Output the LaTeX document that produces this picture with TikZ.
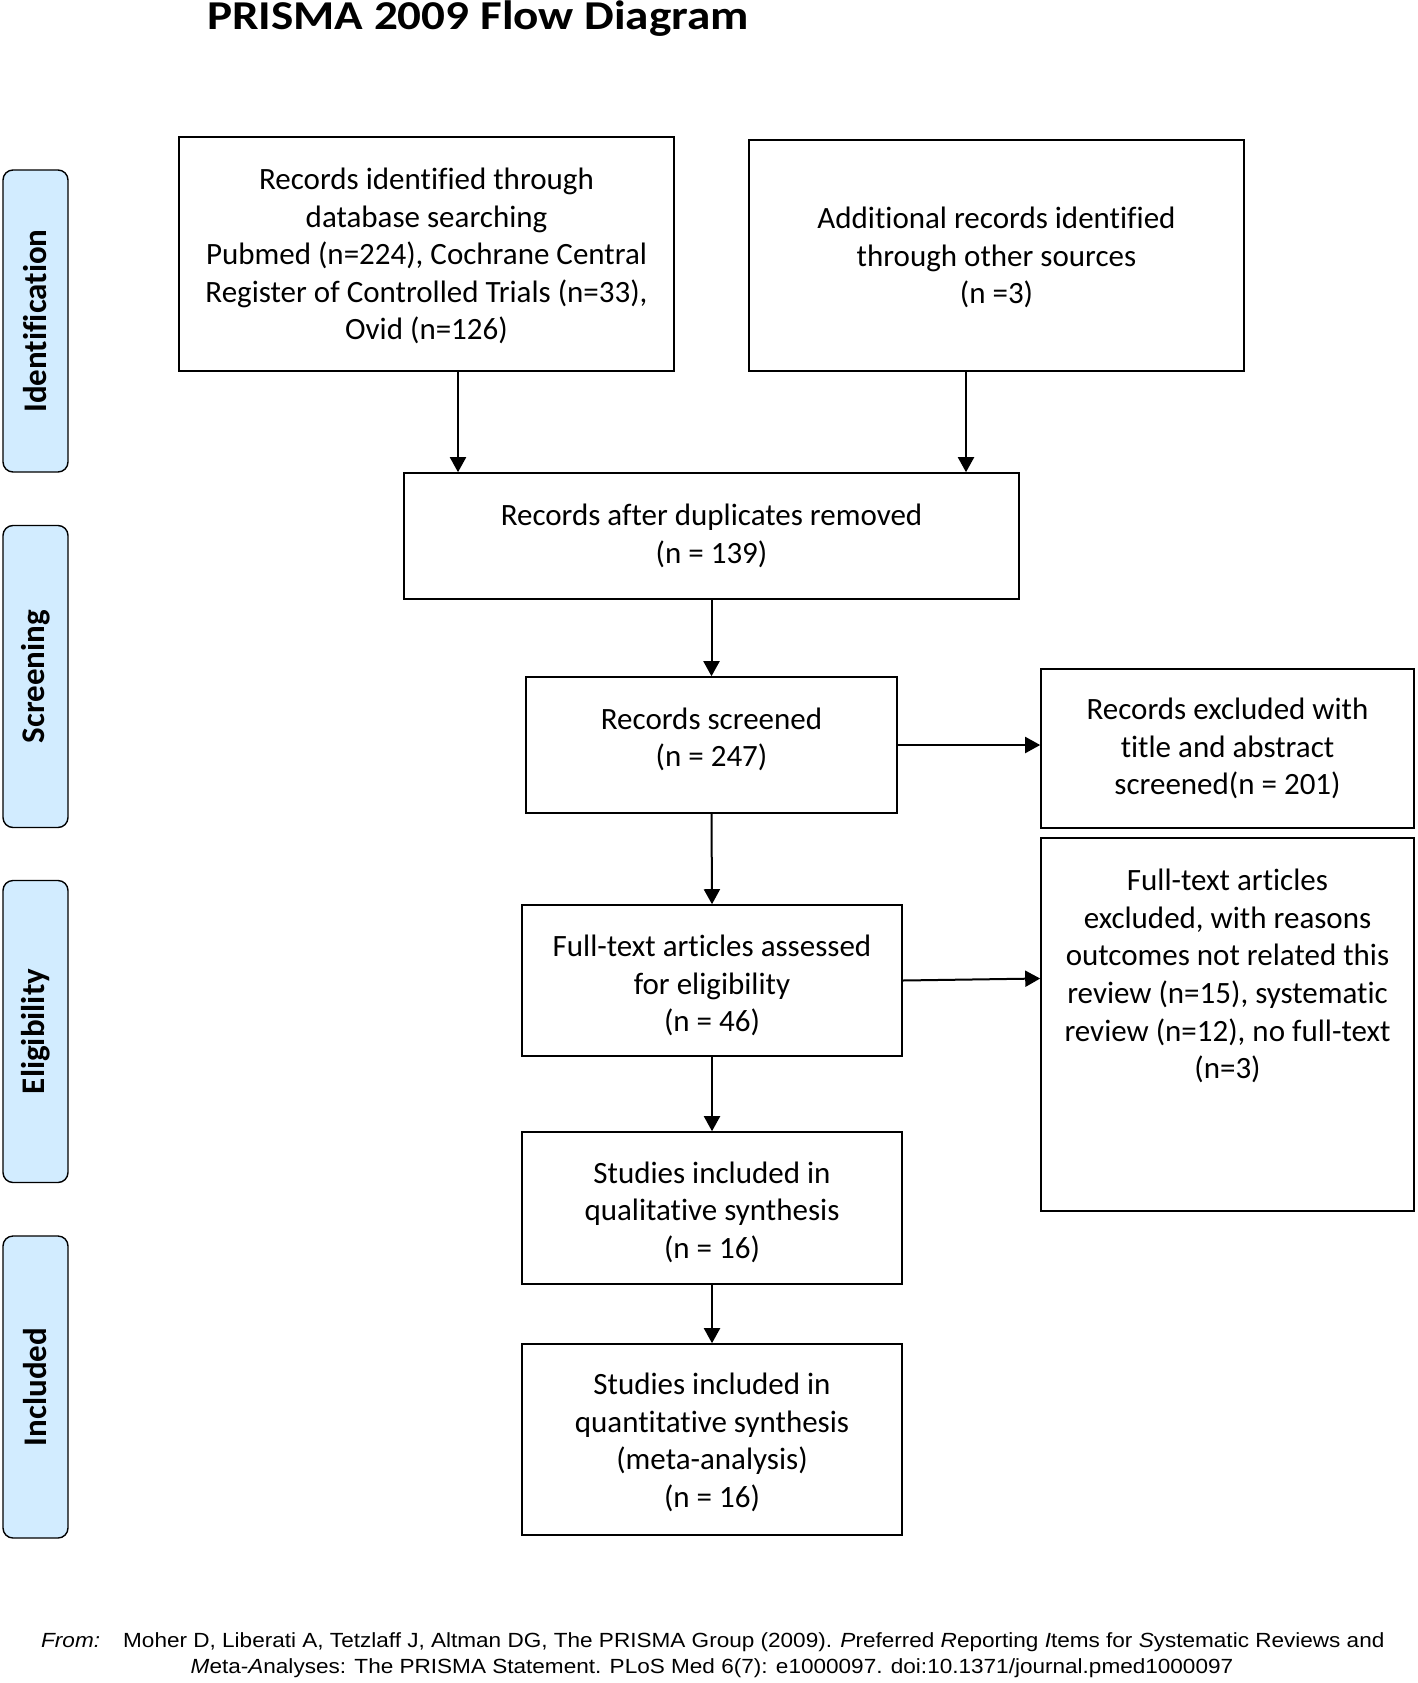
\documentclass[tikz,border=0pt]{standalone}
\usepackage{fontspec}
\setmainfont[Ligatures=NoCommon]{Carlito}
\newfontfamily\footfont[FakeStretch=1.1]{Liberation Sans}
\usetikzlibrary{arrows.meta,calc}
\definecolor{sideblue}{RGB}{210,236,255}
\begin{document}
\begin{tikzpicture}[x=1pt,y=-1pt,
  box/.style={draw,line width=1.6pt,align=center,inner sep=0pt,
    font=\fontsize{31}{37.6}\selectfont},
  btext/.style={align=center,inner sep=0pt,font=\fontsize{31}{37.6}\selectfont},
  side/.style={draw,line width=1.4pt,fill=sideblue,rounded corners=10pt,
    minimum width=65pt,minimum height=302pt,inner sep=0pt},
  sidetext/.style={rotate=90,font=\fontsize{33}{38}\selectfont\bfseries},
  arr/.style={line width=2pt,-{Triangle[length=15pt,width=16pt]}},
  foot/.style={inner sep=0pt,anchor=base west,font=\fontsize{20.5}{25}\footfont}]
\useasboundingbox (0,0) rectangle (1418,1683);
% title
\node[anchor=base,inner sep=0pt,font=\fontsize{41}{45}\selectfont\bfseries] (title) at (478,30) {\scalebox{1.15}[1]{PRISMA 2009 Flow Diagram}};
% side labels
\node[side] (s1) at (35.5,321) {};
\node[sidetext] (s1t) at (s1.center) {Identification};
\node[side] (s2) at (35.5,676.5) {};
\node[sidetext] (s2t) at (s2.center) {Screening};
\node[side] (s3) at (35.5,1031.5) {};
\node[sidetext] (s3t) at (s3.center) {Eligibility};
\node[side] (s4) at (35.5,1387) {};
\node[sidetext] (s4t) at (s4.center) {Included};
% boxes
\node[box,minimum width=495pt,minimum height=234pt] (b1) at (426.5,254) {};
\node[btext] (b1t) at (426.5,256)
  {Records identified through\\database searching\\Pubmed (n=224), Cochrane Central\\Register of Controlled Trials (n=33),\\Ovid (n=126)};
\node[box,minimum width=495pt,minimum height=231pt] (b2) at (996.5,255.5) {};
\node[btext] (b2t) at (996.5,257.5)
  {Additional records identified\\through other sources\\(n =3)};
\node[box,minimum width=615pt,minimum height=126pt] (b3) at (711.5,536)
  {Records after duplicates removed\\(n = 139)};
\node[box,minimum width=371pt,minimum height=136pt] (b4) at (711.5,745) {};
\node[btext] (b4t) at (711.5,739.5) {Records screened\\(n = 247)};
\node[box,minimum width=373pt,minimum height=159pt] (b5) at (1227.5,748.5)
  {Records excluded with\\title and abstract\\screened(n = 201)};
\node[box,minimum width=380pt,minimum height=151pt] (b6) at (712,980.5) {};
\node[btext] (b6t) at (712,985.5) {Full-text articles assessed\\for eligibility\\(n = 46)};
\node[box,minimum width=373pt,minimum height=373pt] (b7) at (1227.5,1024.5) {};
\node[btext] (b7t) at (1227.5,976)
  {Full-text articles\\excluded, with reasons\\outcomes not related this\\review (n=15), systematic\\review (n=12), no full-text\\(n=3)};
\node[box,minimum width=380pt,minimum height=152pt] (b8) at (712,1208) {};
\node[btext] (b8t) at (712,1212) {Studies included in\\qualitative synthesis\\(n = 16)};
\node[box,minimum width=380pt,minimum height=191pt] (b9) at (712,1439.5) {};
\node[btext] (b9t) at (712,1442.5) {Studies included in\\quantitative synthesis\\(meta-analysis)\\(n = 16)};
% connectors
\draw[arr] ([xshift=31.5pt]b1.south) -- ([xshift=31.5pt]b1.south |- b3.north);
\draw[arr] ([xshift=-30.5pt]b2.south) -- ([xshift=-30.5pt]b2.south |- b3.north);
\draw[arr] (b3.south) -- (b4.north);
\draw[arr] (b4.east) -- (b4.east -| b5.west);
\draw[arr] (b4.south) -- (b6.north);
\draw[arr] (b6.east) -- ([yshift=2pt]b6.east -| b7.west);
\draw[arr] (b6.south) -- (b8.north);
\draw[arr] (b8.south) -- (b9.north);
% footer
\node[foot] (f0) at (41,1647) {\itshape From:};
\node[foot] (f1) at (123,1647) {Moher D, Liberati A, Tetzlaff J, Altman DG, The PRISMA Group (2009). \textit{P}referred \textit{R}eporting \textit{I}tems for \textit{S}ystematic Reviews and};
\node[foot,anchor=base] (f2) at (712,1673) {\textit{M}eta-\textit{A}nalyses: The PRISMA Statement. PLoS Med 6(7): e1000097. doi:10.1371/journal.pmed1000097};
\end{tikzpicture}
\end{document}
